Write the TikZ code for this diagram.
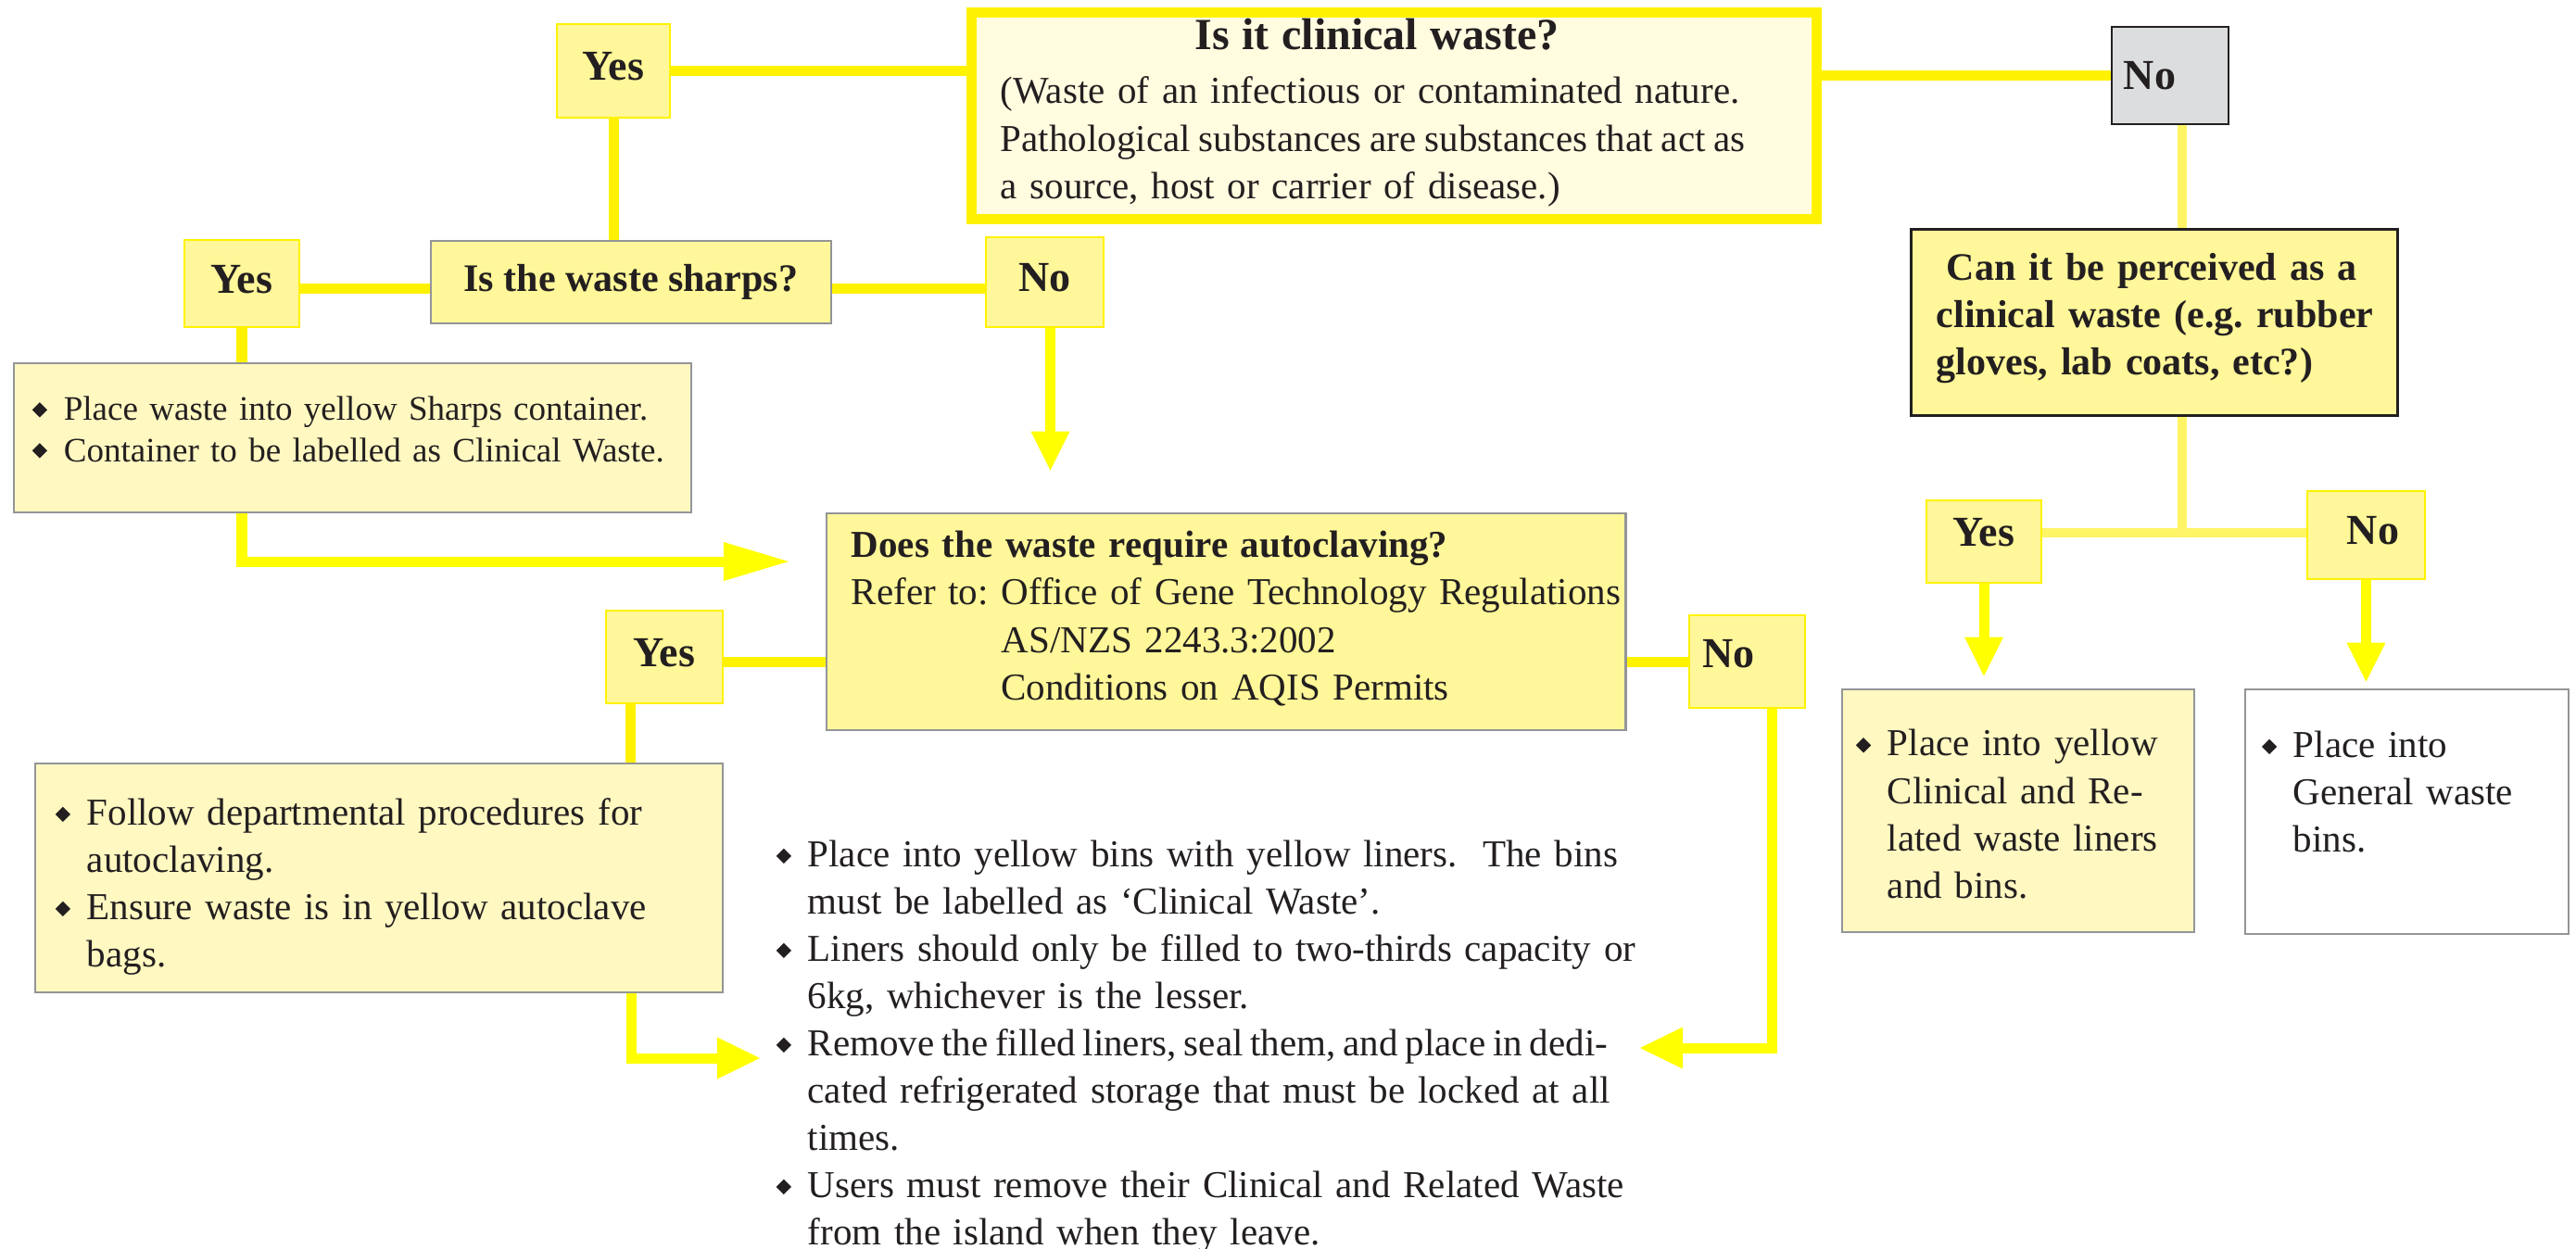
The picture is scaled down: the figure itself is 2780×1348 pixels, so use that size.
\documentclass[tikz,border=0pt]{standalone}
\usepackage{fontspec}
\setmainfont{Liberation Serif}
\usetikzlibrary{arrows.meta}

\definecolor{lineyel}{HTML}{FFF200}
\definecolor{arryel}{HTML}{FFFF00}
\definecolor{paleyel}{HTML}{FFF466}
\definecolor{boxyel}{HTML}{FFF799}
\definecolor{noteyel}{HTML}{FFF8C1}
\definecolor{clinyel}{HTML}{FFFCE0}
\definecolor{greybrd}{HTML}{939598}
\definecolor{inkdark}{HTML}{231F20}
\definecolor{nogrey}{HTML}{DCDDDE}

\newcommand{\dmd}{\makebox[0.34cm][l]{\raisebox{0.035cm}{\rotatebox{45}{\rule{0.115cm}{0.115cm}}}}}
\newcommand{\ind}{\hspace*{0.34cm}}
\newcommand{\bodyfont}{\fontsize{11.67}{14.51}\selectfont}
\frenchspacing

\begin{document}
\begin{tikzpicture}[x=0.01cm,y=-0.01cm,
    ans/.style={draw=lineyel,fill=boxyel,line width=0.02cm,inner sep=0,text=inkdark,
      text depth=0.1cm,font=\fontsize{13.09}{14}\selectfont\bfseries},
    ques/.style={draw=greybrd,fill=boxyel,line width=0.025cm,inner sep=0,text=inkdark,
      font=\fontsize{11.95}{14.51}\selectfont\bfseries},
    note/.style={draw=greybrd,fill=noteyel,line width=0.025cm,inner ysep=0,align=left,
      text=inkdark,font=\bodyfont},
    link/.style={draw=lineyel,line width=0.11cm},
    pale/.style={draw=paleyel,line width=0.1cm},
    flow/.style={draw=arryel,line width=0.11cm,
      -{Triangle[length=0.42cm,width=0.42cm,line width=0pt]}},
    longflow/.style={draw=arryel,line width=0.11cm,
      -{Triangle[length=0.7cm,width=0.42cm,line width=0pt]}},
    wideflow/.style={draw=arryel,line width=0.11cm,
      -{Triangle[length=0.46cm,width=0.45cm,line width=0pt]}}]
  \useasboundingbox (0,0) rectangle (2780,1348);

  % questions
  \node[draw=lineyel,line width=0.11cm,fill=clinyel,minimum width=9.12cm,minimum height=2.19cm,
    text width=8.49cm,inner xsep=0.315cm,inner ysep=0,align=left,font=\bodyfont,text=inkdark]
    (clin) at (1504.5,125)
    {\rule{0pt}{0.4cm}\makebox[\hsize][c]{\fontsize{13.66}{14.51}\selectfont\bfseries Is it clinical waste?\hspace*{0.37cm}}\\[0.07cm]
     (Waste of an infectious or contaminated nature.\\
     \mbox{\spaceskip=0.22em Pathological substances are substances that act as}\\
     a source, host or carrier of disease.)\rule[-0.22cm]{0pt}{0pt}};
  \node[ques,minimum width=4.32cm,minimum height=0.89cm] (sharpsQ) at (681,304.5) {Is the waste sharps?};
  \node[ques,font=\bodyfont,align=left,minimum width=8.62cm,minimum height=2.34cm,
    text width=8.08cm,inner xsep=0.27cm] (autoQ) at (1323,671)
    {\rule{0pt}{0.36cm}\textbf{Does the waste require autoclaving?}\\
     \mbox{Refer to: Office of Gene Technology Regulations}\\
     \phantom{Refer to: }AS/NZS 2243.3:2002\\
     \phantom{Refer to: }Conditions on AQIS Permits\rule[-0.21cm]{0pt}{0pt}};
  \node[ques,draw=inkdark,line width=0.03cm,align=left,minimum width=5.24cm,minimum height=2cm,
    text width=4.7cm,inner xsep=0.27cm] (canQ) at (2325,348)
    {\rule{0pt}{0.36cm}\hspace*{0.11cm}Can it be perceived as a\\
     \mbox{clinical waste (e.g. rubber}\\
     gloves, lab coats, etc?)\rule[-0.25cm]{0pt}{0pt}};

  % answers
  \node[ans,minimum width=1.22cm,minimum height=1.01cm] (yesA) at (662,76.5) {Yes};
  \node[ans,minimum width=1.24cm,minimum height=0.94cm] (yesB) at (261,306) {Yes};
  \node[ans,minimum width=1.27cm,minimum height=0.97cm] (noB) at (1127.5,304.5) {No};
  \node[ans,draw=inkdark,fill=nogrey,minimum width=1.26cm,minimum height=1.05cm,text depth=0cm]
    (noA) at (2342,81.5) {No\hspace*{0.44cm}};
  \node[ans,minimum width=1.26cm,minimum height=1cm] (yesC) at (717,709) {Yes};
  \node[ans,minimum width=1.25cm,minimum height=1cm,text depth=0.18cm] (noC) at (1885.5,714) {No\hspace*{0.4cm}};
  \node[ans,minimum width=1.24cm,minimum height=0.89cm,text depth=0.2cm] (yesD) at (2141,584.5) {Yes};
  \node[ans,minimum width=1.27cm,minimum height=0.95cm] (noD) at (2553.5,577.5) {\hspace*{0.15cm}No};

  % what to do
  \node[note,minimum width=7.31cm,minimum height=1.61cm,text width=6.91cm,inner xsep=0.2cm,
    font=\fontsize{10.53}{12.52}\selectfont] (sharpsDo) at (380.5,472.5)
    {\rule{0pt}{0.32cm}\dmd Place waste into yellow Sharps container.\\
     \dmd Container to be labelled as Clinical Waste.\rule[-0.25cm]{0pt}{0pt}};
  \node[note,minimum width=7.42cm,minimum height=2.47cm,text width=6.98cm,inner xsep=0.22cm]
    (procDo) at (409,947.5)
    {\rule{0pt}{0.56cm}\dmd Follow departmental procedures for\\
     \ind autoclaving.\\
     \dmd Ensure waste is in yellow autoclave\\
     \ind bags.\rule[-0.17cm]{0pt}{0pt}};
  \node[note,minimum width=3.8cm,minimum height=2.62cm,text width=3.5cm,inner xsep=0.15cm]
    (yelDo) at (2178,875)
    {\rule{0pt}{0.5cm}\dmd Place into yellow\\
     \ind Clinical and Re-\\
     \ind lated waste liners\\
     \ind and bins.\rule[-0.15cm]{0pt}{0pt}};
  \node[note,fill=white,minimum width=3.49cm,minimum height=2.64cm,text width=3.13cm,inner xsep=0.18cm]
    (whiteDo) at (2597.5,876)
    {\rule{0pt}{0.35cm}\dmd Place into\\
     \ind General waste\\
     \ind bins.\rule[-0.5cm]{0pt}{0pt}};
  \node[anchor=north west,inner sep=0,align=left,text width=10cm,font=\bodyfont,text=inkdark]
    (binText) at (837,899)
    {\strut\dmd Place into yellow bins with yellow liners.\ \ The bins\\
     \ind must be labelled as ‘Clinical Waste’.\\
     \dmd Liners should only be filled to two-thirds capacity or\\
     \ind 6kg, whichever is the lesser.\\
     \dmd\mbox{\spaceskip=0.19em Remove the filled liners, seal them, and place in dedi-}\\
     \ind cated refrigerated storage that must be locked at all\\
     \ind times.\\
     \dmd Users must remove their Clinical and Related Waste\\
     \ind from the island when they leave.};

  \coordinate (tipS) at (851,606);
  \coordinate (tipP) at (820,1142);
  \coordinate (tipN) at (1770,1131);
  \coordinate (fork) at (2355,575);

  \draw[link] (yesA.east) -- (yesA.east -| clin.west);
  \draw[link] (clin.east |- noA.west) -- (noA.west);
  \draw[link] (yesA.south) -- (yesA.south |- sharpsQ.north);
  \draw[link] ([yshift=-0.05cm]yesB.east) -- ([yshift=-0.05cm]yesB.east -| sharpsQ.west);
  \draw[link] ([yshift=-0.065cm]sharpsQ.east) -- ([yshift=-0.065cm]sharpsQ.east -| noB.west);
  \draw[link] (yesB.south) -- (yesB.south |- sharpsDo.north);
  \draw[flow,shorten >=0.45cm] ([xshift=0.06cm]noB.south) -- ([xshift=0.06cm]noB.south |- autoQ.north);
  \draw[longflow] (yesB.south |- sharpsDo.south) -- (yesB.south |- tipS) -- (tipS);
  \draw[link] ([yshift=-0.05cm]yesC.east) -- ([yshift=-0.05cm]yesC.east -| autoQ.west);
  \draw[link] (autoQ.east |- noC.west) -- (noC.west);
  \draw[link] ([xshift=-0.36cm]yesC.south) -- ([xshift=-0.36cm]yesC.south |- procDo.north);
  \draw[wideflow] ([xshift=-0.35cm]yesC.south |- procDo.south) -- ([xshift=-0.35cm]yesC.south |- tipP) -- (tipP);
  \draw[wideflow] ([xshift=0.27cm]noC.south) -- ([xshift=0.27cm]noC.south |- tipN) -- (tipN);
  \draw[pale] ([xshift=0.13cm]noA.south) -- ([xshift=0.13cm]noA.south |- canQ.north);
  \draw[pale] (fork |- canQ.south) -- (fork);
  \draw[pale] (fork -| yesD.east) -- (fork -| noD.west);
  \draw[flow,shorten >=0.13cm] (yesD.south) -- (yesD.south |- yelDo.north);
  \draw[flow,shorten >=0.07cm] (noD.south) -- (noD.south |- whiteDo.north);
\end{tikzpicture}
\end{document}
